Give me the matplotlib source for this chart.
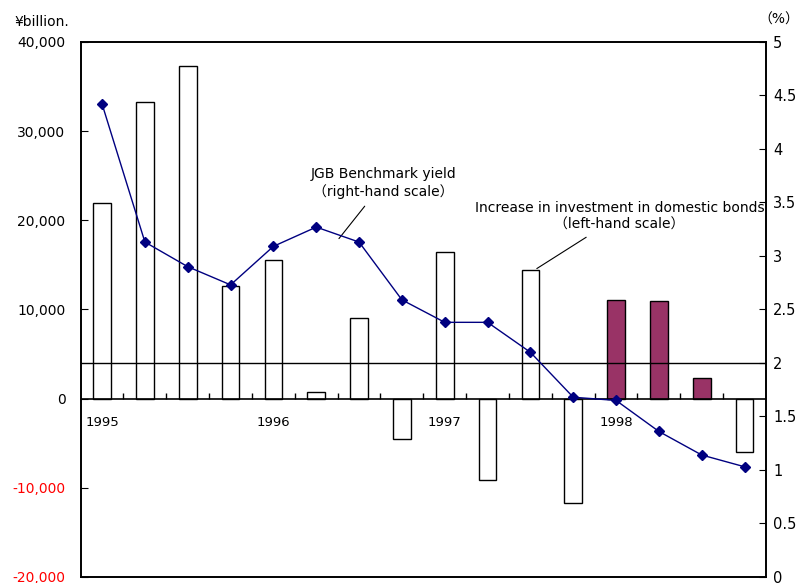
import numpy as np
import matplotlib
matplotlib.use("Agg")
import matplotlib.pyplot as plt
import matplotlib.transforms as mtransforms

plt.rcParams['font.family'] = ['DejaVu Sans', 'Noto Sans CJK JP']

# quarterly data 1995Q1 - 1998Q4
quarters = np.arange(16)
bond_increase = [21900, 33300, 37300, 12600, 15600, 750, 9000, -4500,
                 16400, -9100, 14400, -11700, 11100, 11000, 2350, -6000]
jgb_yield = [4.42, 3.13, 2.90, 2.73, 3.09, 3.27, 3.13, 2.59,
             2.38, 2.38, 2.10, 1.68, 1.65, 1.36, 1.14, 1.03]
highlight = [False] * 12 + [True, True, True, False]
year_labels = ['1995', '1996', '1997', '1998']
year_pos = [0, 4, 8, 12]

left_ticks = [-20000, -10000, 0, 10000, 20000, 30000, 40000]
right_ticks = [0, 0.5, 1, 1.5, 2, 2.5, 3, 3.5, 4, 4.5, 5]

fig = plt.figure(figsize=(8.01, 5.83), dpi=100)
ax = fig.add_axes([0.1007, 0.0103, 0.8556, 0.9177])

colors = ['#993366' if h else 'white' for h in highlight]
ax.bar(quarters, bond_increase, width=0.41, color=colors, edgecolor='black', linewidth=1.0, zorder=2)
ax.axhline(0, color='black', linewidth=1.2, zorder=3)
# category tick marks on the zero line
ax.vlines(quarters[:-1] + 0.5, 0, 650, color='black', linewidth=1.0, zorder=3)

ax.set_xlim(-0.5, 15.5)
ax.set_ylim(-20000, 40000)
ax.set_xticks([])
ax.set_yticks(left_ticks)
ax.set_yticklabels(['{:,}'.format(v) for v in left_ticks], fontsize=10)
for lab, v in zip(ax.get_yticklabels(), left_ticks):
    if v < 0:
        lab.set_color('red')
ax.tick_params(axis='y', direction='in', length=5, pad=11)

trans = mtransforms.blended_transform_factory(ax.transData, ax.transData)
for lbl, p in zip(year_labels, year_pos):
    ax.text(p, -2700, lbl, ha='center', va='center', fontsize=9.5, transform=trans)

ax2 = ax.twinx()
ax2.set_position(ax.get_position())
ax2.set_ylim(0, 5)
ax2.axhline(2, color='black', linewidth=1.0, zorder=1)
ax2.plot(quarters, jgb_yield, color='#000080', linewidth=1.0, marker='D', markersize=5, zorder=4)
ax2.set_yticks(right_ticks)
ax2.set_yticklabels(['{:g}'.format(v) for v in right_ticks], fontsize=10.5)
ax2.tick_params(axis='y', direction='in', length=5, pad=5)

for a in (ax, ax2):
    for s in a.spines.values():
        s.set_linewidth(1.2)

ax.annotate('JGB Benchmark yield\n（right-hand scale）', xy=(5.53, 17950), xytext=(6.56, 24170),
            ha='center', va='center', fontsize=10, linespacing=1.25,
            arrowprops=dict(arrowstyle='-', color='black', lw=0.8, shrinkA=4, shrinkB=0))
ax.annotate('Increase in investment in domestic bonds\n（left-hand scale）', xy=(10.15, 14590),
            xytext=(12.08, 20470), ha='center', va='center', fontsize=10, linespacing=1.25,
            annotation_clip=False,
            arrowprops=dict(arrowstyle='-', color='black', lw=0.8, shrinkA=4, shrinkB=0))

fig.text(14 / 801, 1 - 22 / 583, '¥billion.', ha='left', va='center', fontsize=10)
fig.text(779 / 801, 1 - 20 / 583, '（%）', ha='center', va='center', fontsize=10)

fig.savefig('out.png', dpi=100)
